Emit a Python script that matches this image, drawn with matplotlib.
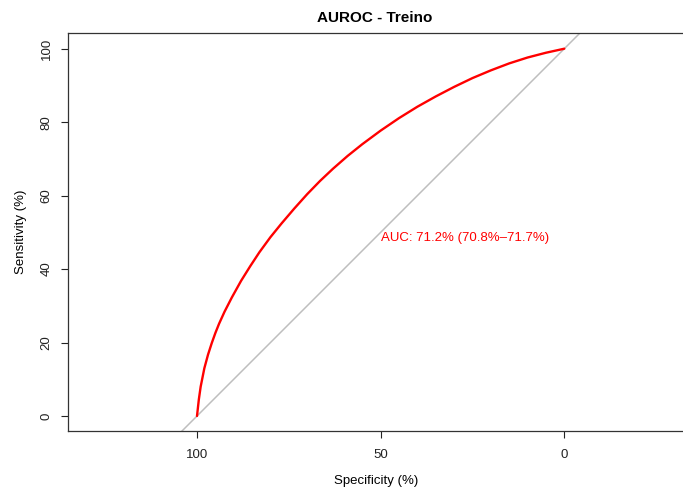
import matplotlib
matplotlib.use("Agg")
import matplotlib.pyplot as plt

plt.rcParams['font.family'] = ['Liberation Sans', 'DejaVu Sans']

# ROC curve values (percent)
specificity = [100, 99.5, 99, 98, 97, 96, 95, 94, 92.5, 90.5, 88, 85.5, 83,
               80, 77, 73.5, 70, 66.5, 63, 59, 55, 50, 45, 40, 35, 30, 25,
               20, 15, 10, 5, 0]
sensitivity = [0, 4.5, 8.0, 13.0, 16.7, 19.8, 22.6, 25.1, 28.4, 32.3, 36.8,
               40.8, 44.6, 48.7, 52.4, 56.5, 60.4, 64.0, 67.3, 70.8, 74.0,
               77.7, 81.1, 84.2, 87.0, 89.6, 92.0, 94.1, 96.0, 97.6, 98.9, 100]
x_ticks = [100, 50, 0]
y_ticks = [0, 20, 40, 60, 80, 100]
auc_text = "AUC: 71.2% (70.8%–71.7%)"
title = "AUROC - Treino"

W, H = 683, 491
fig = plt.figure(figsize=(W / 100, H / 100), dpi=100)
# axes box in pixels: left 68, right beyond edge, top 33, bottom 431
L, R, T, B = 68, 684, 33, 431
ax = fig.add_axes([L / W, 1 - B / H, (R - L) / W, (B - T) / H])

ppu = (416 - 48.7) / 100.0  # pixels per unit
x0_pix = 197
xl = 100 + (x0_pix - L) / ppu
xr = 100 - (R - x0_pix) / ppu
ax.set_xlim(xl, xr)
yb = -(B - 416) / ppu
yt = 100 + (48.7 - T) / ppu
ax.set_ylim(yb, yt)

# diagonal
ax.plot([200, -100], [-100, 200], color='#BEBEBE', lw=1.1, zorder=1)
ax.plot(specificity, sensitivity, color='#FF0000', lw=1.7, zorder=2,
        solid_joinstyle='round', solid_capstyle='round')

ax.text(50, 50, auc_text, color='#FF0000', fontsize=9.5, ha='left', va='top')

ax.set_xticks(x_ticks)
ax.set_xticklabels([str(v) for v in x_ticks])
ax.set_yticks(y_ticks)
ax.set_yticklabels([str(v) for v in y_ticks], rotation=90, va='center')
ax.tick_params(direction='out', length=5, width=0.8, labelsize=9.5,
               colors='#222222', pad=8)
ax.tick_params(axis='y', pad=6)
for s in ax.spines.values():
    s.set_linewidth(0.9)
    s.set_color('#333333')
ax.spines['right'].set_visible(False)

ax.set_xlabel("Specificity (%)", fontsize=9.5, labelpad=10)
ax.set_ylabel("Sensitivity (%)", fontsize=9.5, labelpad=10)
fig.text(375 / W, 1 - 18 / H, title, fontsize=11, fontweight='bold',
         ha='center', va='center')

fig.savefig("out.png", dpi=100)
